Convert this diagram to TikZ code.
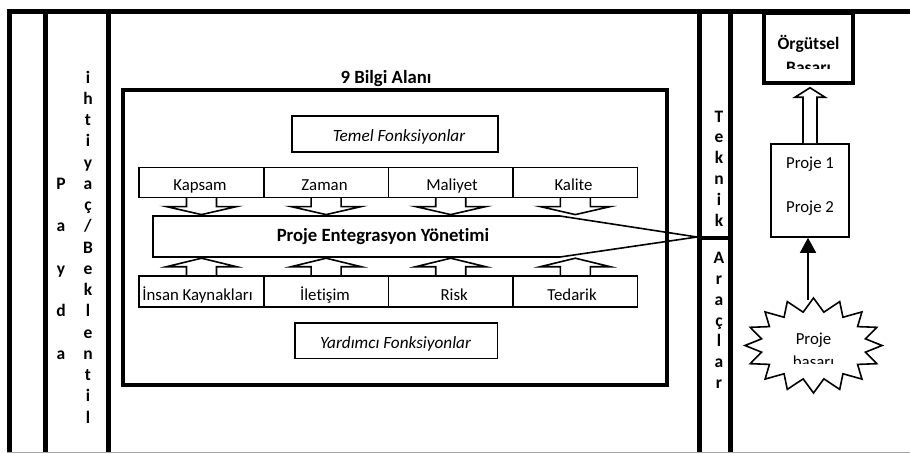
\documentclass[tikz,border=0pt]{standalone}
\usepackage{fontspec}
\setmainfont{Carlito}[Ligatures=CommonOff]
\usetikzlibrary{arrows.meta,calc}
\begin{document}
\begin{tikzpicture}[x=1pt,y=-1pt,
  frameline/.style={line width=4.7pt},
  thinline/.style={line width=1.6pt},
  lbl/.style={inner sep=0pt, anchor=base, font=\fontsize{16.8}{20}\selectfont},
  blbl/.style={inner sep=0pt, anchor=base, font=\fontsize{17.5}{21}\selectfont\bfseries},
  bigblbl/.style={inner sep=0pt, anchor=base, font=\fontsize{18.7}{22}\selectfont\bfseries},
  ilbl/.style={inner sep=0pt, anchor=base, font=\fontsize{17.2}{21}\selectfont\itshape},
  cell/.style={draw, thinline, minimum width=124.6pt, minimum height=30pt, inner sep=0pt},
  downarr/.pic={\draw[thinline, line join=miter] (-15,0) -- (-15,8.5) -- (-35,8.5) -- (0,16.5) -- (35,8.5) -- (15,8.5) -- (15,0);},
  uparr/.pic={\draw[thinline, line join=miter] (-15,0) -- (-15,-8.5) -- (-35,-8.5) -- (0,-17) -- (35,-8.5) -- (15,-8.5) -- (15,0);}
]
\useasboundingbox (0,0) rectangle (910,453);
% outer frame
\draw[gray!70, line width=1pt] (6.8,452) -- (910,452);
\draw[frameline] (6.8,11.7) -- (910,11.7);
\foreach \x in {9.2,45.8,108.3,699.2,730.5} \draw[frameline] (\x,9.35) -- (\x,451.5);
\draw[line width=4pt] (699.2,238) -- (730.5,238);

% column letters
\foreach \l [count=\i from 0] in {P,a,y,d,a} \node[blbl] (pa\i) at (61,189+42.5*\i) {\l};
\foreach \l [count=\i from 0] in {i,h,t,i,y,a,ç,/,B,e,k,l,e,n,t,i,l} \node[blbl] (ih\i) at (88,83+21.25*\i) {\l};
\foreach \l [count=\i from 0] in {T,e,k,n,i,k} \node[blbl] (te\i) at (719,122+20.9*\i) {\l};
\foreach \l [count=\i from 0] in {A,r,a,ç,l,a,r} \node[blbl] (ar\i) at (719,263.3+20.9*\i) {\l};

% 9 Bilgi Alani
\node[draw, line width=4pt, minimum width=543.7pt, minimum height=294.7pt, inner sep=0pt] (bilgi) at (395.15,237.35) {};
\node[bigblbl] (bilgititle) at (386,83) {9 Bilgi Alanı};

\node[draw, thinline, minimum width=206pt, minimum height=35.7pt, inner sep=0pt] (temelbox) at (394.7,133.85) {};
\node[ilbl] (temel) at (399,141) {Temel Fonksiyonlar};
\node[draw, thinline, minimum width=202.7pt, minimum height=35.6pt, inner sep=0pt] (yardbox) at (396.3,340.5) {};
\node[ilbl] (yard) at (395.5,348.3) {Yardımcı Fonksiyonlar};

% top row
\node[cell] (c1) at (201.5,182.3) {};
\node[cell] (c2) at (326.1,182.3) {};
\node[cell] (c3) at (450.7,182.3) {};
\node[cell] (c4) at (575.3,182.3) {};
\begin{scope}
\clip (139,160) rectangle (638,193.5);
\node[lbl] (kapsam) at (200,190.7) {Kapsam};
\node[lbl] (zaman) at (324.5,190.7) {Zaman};
\node[lbl] (maliyet) at (452,190.7) {Maliyet};
\node[lbl] (kalite) at (573.5,190.7) {Kalite};
\end{scope}
\foreach \c in {c1,c2,c3,c4} \pic at (\c.south) {downarr};

% bottom row
\node[cell, minimum height=30.7pt] (d1) at (201.5,291.35) {};
\node[cell, minimum height=30.7pt] (d2) at (326.1,291.35) {};
\node[cell, minimum height=30.7pt] (d3) at (450.7,291.35) {};
\node[cell, minimum height=30.7pt] (d4) at (575.3,291.35) {};
\begin{scope}
\clip (139,270) rectangle (638,302.8);
\node[lbl] (insan) at (197.5,300.5) {İnsan Kaynakları};
\node[lbl] (iletisim) at (325,300.5) {İletişim};
\node[lbl] (risk) at (454.2,300.5) {Risk};
\node[lbl] (tedarik) at (572,300.5) {Tedarik};
\end{scope}
\foreach \c in {d1,d2,d3,d4} \pic at (\c.north) {uparr};

% pentagon
\draw[thinline, line join=miter] (153,216) -- (560,216) -- (697,237) -- (560,257) -- (153,257) -- cycle;
\node[bigblbl] (pey) at (383,241.7) {Proje Entegrasyon Yönetimi};

% right side
\node[draw, line width=4.5pt, minimum width=89pt, minimum height=70pt, inner sep=0pt] (org) at (808.5,48) {};
\begin{scope}
\clip (766,15) rectangle (851,68.3);
\node[blbl] (org1) at (808.5,49.3) {Örgütsel};
\node[blbl] (org2) at (808.5,73) {Başarı};
\end{scope}

\node[draw, thinline, minimum width=78pt, minimum height=93pt, inner sep=0pt] (proj) at (810,190.5) {};
\node[lbl] (p1) at (810,168) {Proje 1};
\node[lbl] (p2) at (810,212) {Proje 2};

\draw[thinline, line join=miter, fill=white] ($(proj.north)+(-7,0)$) -- ++(0,-46) -- ++(-8,0)
  -- ($(proj.north |- org.south)+(0,2.5)$) -- ($(proj.north)+(15,-46)$) -- ++(-8,0) -- ++(0,46);

% star
\draw[thinline, line join=miter, fill=white] plot[samples at={0,...,31}, variable=\k]
  ({813.5+(53+15.5*(1-mod(\k,2)))*cos(90+11.25*\k)}, {345.5-(34+13.5*(1-mod(\k,2)))*sin(90+11.25*\k)}) -- cycle;
\coordinate (startop) at (808,300);
\begin{scope}
\clip (740,320) rectangle (890,363.5);
\node[lbl] (s1) at (813.5,344.6) {Proje};
\node[lbl] (s2) at (813.5,367.5) {başarı};
\end{scope}
\draw[thinline, -{Triangle[width=16pt,length=15pt]}] (startop) -- (startop |- proj.south);
\end{tikzpicture}
\end{document}
